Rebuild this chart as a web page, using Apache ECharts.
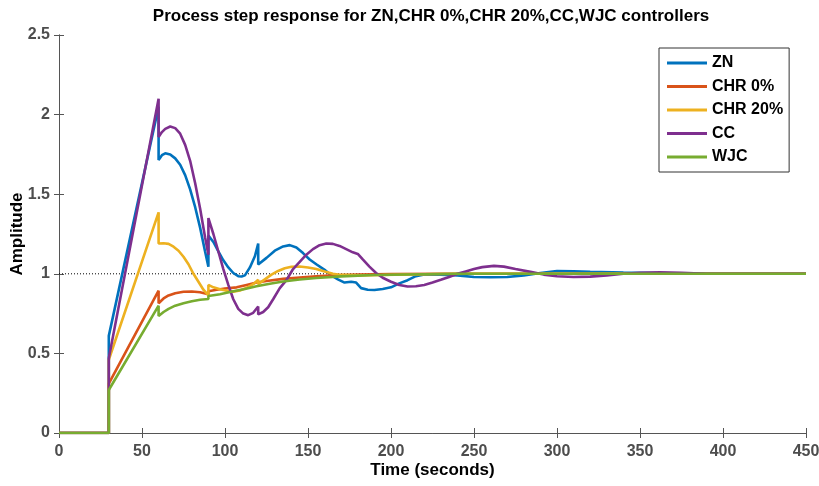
<!DOCTYPE html>
<html>
<head>
<meta charset="utf-8">
<title>Process step response</title>
<script src="https://cdn.jsdelivr.net/npm/echarts@6/dist/echarts.min.js"></script>
<style>
  html, body {
    margin: 0;
    padding: 0;
    background: #fff;
  }
  #step-response {
    width: 819px;
    height: 486px;
  }
</style>
</head>
<body>
<div id="step-response"></div>
<script>
const seriesNames = ['ZN', 'CHR 0%', 'CHR 20%', 'CC', 'WJC'];
const seriesColors = ['#0072BD', '#D95319', '#EDB120', '#7E2F8E', '#77AC30'];

const xTicks = [0, 50, 100, 150, 200, 250, 300, 350, 400, 450];
const yTicks = [0, 0.5, 1, 1.5, 2, 2.5];
const setPoint = 1;

// [time, amplitude]
const znData = [
  [0, 0], [30, 0], [30, 0.61], [60, 2.05], [60, 1.715], [62, 1.745], [64, 1.757], [67, 1.75],
  [70, 1.725], [73, 1.685], [76, 1.62], [79, 1.53], [82, 1.42], [85, 1.29], [88, 1.14], [90, 1.045],
  [90, 1.24], [93, 1.2], [96, 1.14], [99, 1.085], [102, 1.04], [105, 1.005], [108, 0.985], [110, 0.983],
  [112, 0.99], [115, 1.04], [118, 1.11], [120, 1.19], [120, 1.058], [125, 1.1], [130, 1.145], [135, 1.172],
  [139, 1.18], [143, 1.165], [147, 1.13], [151, 1.09], [155, 1.06], [160, 1.025], [164, 0.99], [168, 0.965],
  [172, 0.945], [176, 0.95], [179, 0.945], [182, 0.91], [186, 0.9], [190, 0.898], [195, 0.905], [200, 0.915],
  [205, 0.94], [210, 0.96], [215, 0.985], [220, 0.995], [230, 0.995], [240, 0.99], [250, 0.98], [260, 0.978],
  [270, 0.98], [280, 0.99], [290, 1.005], [300, 1.018], [310, 1.015], [320, 1.012], [340, 1.008], [360, 1.005],
  [380, 1.003], [400, 1.0], [450, 1.0],
];

const chr0Data = [
  [0, 0], [30, 0], [30, 0.31], [60, 0.894], [60, 0.815], [63, 0.845], [66, 0.864], [70, 0.878],
  [75, 0.887], [80, 0.889], [85, 0.884], [90, 0.872], [90, 0.89], [95, 0.9], [100, 0.908], [107, 0.915],
  [113, 0.93], [119, 0.945], [125, 0.955], [135, 0.968], [145, 0.977], [155, 0.984], [165, 0.99], [180, 0.995],
  [200, 0.998], [230, 1.0], [450, 1.0],
];

const chr20Data = [
  [0, 0], [30, 0], [30, 0.46], [60, 1.386], [60, 1.19], [63, 1.192], [66, 1.188], [69, 1.17],
  [72, 1.145], [75, 1.107], [78, 1.06], [81, 1.0], [84, 0.95], [87, 0.9], [90, 0.865], [90, 0.93],
  [93, 0.915], [97, 0.903], [101, 0.893], [105, 0.888], [109, 0.895], [113, 0.912], [117, 0.935], [120, 0.962],
  [120, 0.935], [124, 0.965], [128, 0.995], [132, 1.018], [136, 1.035], [140, 1.044], [145, 1.046], [150, 1.04],
  [155, 1.03], [160, 1.015], [165, 1.0], [170, 0.993], [180, 0.99], [195, 0.992], [210, 0.996], [230, 0.999],
  [250, 1.0], [450, 1.0],
];

const ccData = [
  [0, 0], [30, 0], [30, 0.47], [60, 2.1], [60, 1.86], [62, 1.89], [64, 1.91], [67, 1.925],
  [70, 1.915], [73, 1.88], [76, 1.81], [79, 1.71], [82, 1.57], [85, 1.41], [88, 1.23], [90, 1.12],
  [90, 1.35], [93, 1.25], [96, 1.14], [99, 1.03], [102, 0.93], [105, 0.84], [108, 0.78], [111, 0.75],
  [114, 0.74], [117, 0.755], [120, 0.795], [120, 0.745], [123, 0.76], [126, 0.79], [129, 0.84], [133, 0.91],
  [137, 0.96], [141, 1.03], [145, 1.075], [149, 1.12], [153, 1.155], [157, 1.18], [161, 1.19], [165, 1.188],
  [169, 1.175], [173, 1.155], [177, 1.135], [180, 1.125], [183, 1.09], [187, 1.045], [191, 1.005], [195, 0.975],
  [200, 0.95], [205, 0.93], [210, 0.92], [215, 0.922], [220, 0.93], [225, 0.945], [230, 0.962], [235, 0.98],
  [240, 1.0], [245, 1.015], [250, 1.03], [255, 1.042], [262, 1.05], [268, 1.045], [275, 1.03], [284, 1.012],
  [292, 0.995], [300, 0.985], [310, 0.98], [320, 0.982], [330, 0.99], [340, 1.0], [350, 1.007], [362, 1.01],
  [375, 1.006], [390, 1.0], [450, 1.0],
];

const wjcData = [
  [0, 0], [30, 0], [30, 0.27], [60, 0.8], [60, 0.735], [63, 0.76], [66, 0.78], [70, 0.8],
  [75, 0.815], [80, 0.828], [85, 0.837], [90, 0.842], [90, 0.86], [97, 0.872], [105, 0.89], [112, 0.905],
  [119, 0.922], [127, 0.938], [135, 0.952], [145, 0.964], [155, 0.974], [170, 0.984], [190, 0.992], [210, 0.996],
  [240, 1.0], [450, 1.0],
];

const allData = [znData, chr0Data, chr20Data, ccData, wjcData];

const axisColor = '#555555';
const labelColor = '#4d4d4d';
const fontFamily = '"Liberation Sans", Arial, Helvetica, sans-serif';

const boxAxis = (extra) => Object.assign({
  type: 'value',
  axisLine: {show: true, lineStyle: {color: axisColor, width: 1}},
  axisTick: {show: true, inside: true, length: 5, lineStyle: {color: axisColor}},
  splitLine: {show: false},
}, extra);

const drawChart = () => {
  const myChart = echarts.init(document.getElementById('step-response'), null, {renderer: 'canvas'});
  const xRange = {min: xTicks[0], max: xTicks[xTicks.length - 1], interval: xTicks[1] - xTicks[0]};
  const yRange = {min: yTicks[0], max: yTicks[yTicks.length - 1], interval: yTicks[1] - yTicks[0]};

  const lineSeries = seriesNames.map((name, i) => ({
    name: name,
    type: 'line',
    data: allData[i],
    symbol: 'none',
    showSymbol: false,
    lineStyle: {color: seriesColors[i], width: 2.6},
    itemStyle: {color: seriesColors[i]},
    z: 3,
  }));

  const option = {
    animation: false,
    backgroundColor: '#fff',
    textStyle: {fontFamily: fontFamily},
    title: {
      text: 'Process step response for ZN,CHR 0%,CHR 20%,CC,WJC controllers',
      left: 426,
      top: 3,
      textAlign: 'center',
      textStyle: {fontSize: 17, fontWeight: 'bold', color: '#000', fontFamily: fontFamily},
    },
    legend: {
      data: seriesNames,
      orient: 'vertical',
      left: 659,
      top: 48,
      padding: [7, 6, 7, 8],
      itemGap: 7.5,
      itemWidth: 40,
      itemHeight: 3,
      icon: 'rect',
      backgroundColor: '#fff',
      borderColor: '#333',
      borderWidth: 1,
      borderRadius: 0,
      textStyle: {fontSize: 16, fontWeight: 'bold', color: '#000', fontFamily: fontFamily},
    },
    grid: {
      left: 59,
      right: 13,
      top: 35,
      bottom: 53,
      containLabel: false,
      outerBoundsMode: 'none',
    },
    xAxis: [
      boxAxis(Object.assign({
        position: 'bottom',
        name: 'Time (seconds)',
        nameLocation: 'middle',
        nameGap: 29,
        nameMoveOverlap: false,
        nameTextStyle: {fontSize: 17, fontWeight: 'bold', color: '#000', fontFamily: fontFamily},
        axisLabel: {margin: 11, fontSize: 16, fontWeight: 'bold', color: labelColor, fontFamily: fontFamily},
      }, xRange)),
      boxAxis(Object.assign({position: 'top', axisLabel: {show: false}}, xRange)),
    ],
    yAxis: [
      boxAxis(Object.assign({
        position: 'left',
        name: 'Amplitude',
        nameLocation: 'middle',
        nameGap: 33,
        nameMoveOverlap: false,
        nameTextStyle: {fontSize: 17, fontWeight: 'bold', color: '#000', fontFamily: fontFamily},
        axisLabel: {margin: 9, fontSize: 16, fontWeight: 'bold', color: labelColor, fontFamily: fontFamily},
      }, yRange)),
      boxAxis(Object.assign({position: 'right', axisLabel: {show: false}}, yRange)),
    ],
    series: [
      {
        name: 'steady state',
        type: 'line',
        data: [[xRange.min, setPoint], [xRange.max, setPoint]],
        symbol: 'none',
        lineStyle: {color: '#000', width: 1, type: [1, 2]},
        z: 2,
        silent: true,
      },
      ...lineSeries,
    ],
  };
  myChart.setOption(option);
  return myChart;
};

drawChart();
</script>
</body>
</html>
